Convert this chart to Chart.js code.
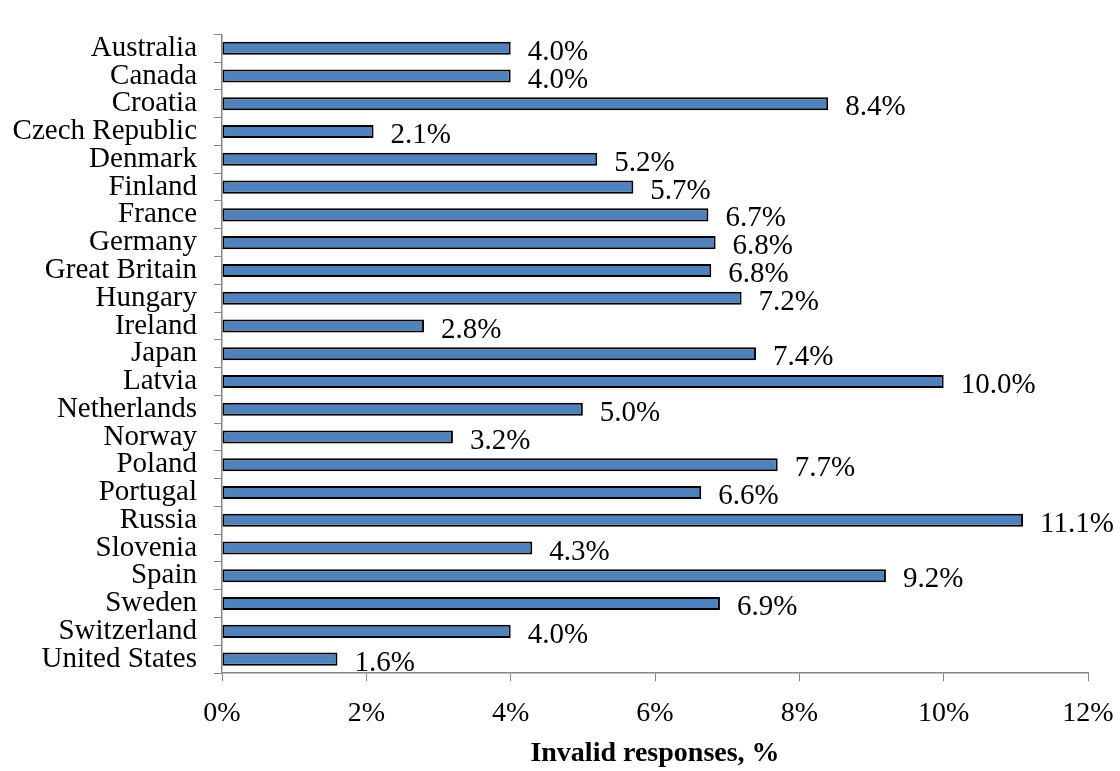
<!DOCTYPE html>
<html>
<head>
<meta charset="utf-8">
<script src="https://cdn.jsdelivr.net/npm/chart.js@4/dist/chart.umd.min.js"></script>
<style>
  html, body { margin: 0; padding: 0; background: #fff; }
  #wrap { width: 1120px; height: 771px; position: relative; }
</style>
</head>
<body>
<div id="wrap"><canvas id="Chart"></canvas></div>
<script>
// countries, top to bottom
const countries = [
  "Australia", "Canada", "Croatia", "Czech Republic", "Denmark", "Finland",
  "France", "Germany", "Great Britain", "Hungary", "Ireland", "Japan",
  "Latvia", "Netherlands", "Norway", "Poland", "Portugal", "Russia",
  "Slovenia", "Spain", "Sweden", "Switzerland", "United States"
];
// share of invalid responses, %
const invalidPct = [
  4.0, 4.0, 8.4, 2.1, 5.2, 5.7,
  6.74, 6.84, 6.78, 7.2, 2.8, 7.4,
  10.0, 5.0, 3.2, 7.7, 6.64, 11.1,
  4.3, 9.2, 6.9, 4.0, 1.6
];
const xTicks = [0, 2, 4, 6, 8, 10, 12];
const axisTitle = "Invalid responses, %";

const FONT = "'Liberation Serif', 'Times New Roman', serif";
Chart.defaults.font.family = FONT;
Chart.defaults.color = "#000";

// value labels at the end of each bar
const barLabels = {
  id: "barLabels",
  afterDatasetsDraw(chart) {
    const ctx = chart.ctx;
    const meta = chart.getDatasetMeta(0);
    ctx.save();
    ctx.font = "29px " + FONT;
    ctx.fillStyle = "#000";
    ctx.textAlign = "left";
    ctx.textBaseline = "middle";
    meta.data.forEach((bar, i) => {
      const txt = invalidPct[i].toFixed(1) + "%";
      ctx.fillText(txt, bar.x + 17, bar.y + 4);
    });
    ctx.restore();
  }
};

const data = {
  labels: countries,
  datasets: [
    {
      label: axisTitle,
      data: invalidPct,
      backgroundColor: "#4F81BD",
      borderColor: "#000",
      borderWidth: 2,
      borderSkipped: false,
      barPercentage: 0.47,
      categoryPercentage: 1.0
    }
  ]
};

const config = {
  type: "bar",
  data,
  options: {
    indexAxis: "y",
    responsive: false,
    animation: false,
    layout: { padding: { top: 14, right: 32, bottom: 0, left: 0 } },
    plugins: {
      legend: { display: false },
      tooltip: { enabled: false }
    },
    scales: {
      x: {
        min: 0,
        max: 12,
        afterBuildTicks: (scale) => {
          scale.ticks = xTicks.map((v) => ({ value: v }));
        },
        afterFit: (scale) => {
          scale.height = 98;
          scale.paddingLeft = 0;
          scale.paddingRight = 0;
        },
        ticks: {
          font: { size: 28 },
          padding: 16,
          callback: (v) => v + "%"
        },
        grid: {
          drawOnChartArea: false,
          drawTicks: true,
          tickLength: 8,
          color: "#868686"
        },
        border: { color: "#868686", width: 1.5 },
        title: {
          display: true,
          text: axisTitle,
          font: { size: 28, weight: "bold" },
          padding: { top: 4, bottom: 0 }
        }
      },
      y: {
        afterFit: (scale) => { scale.width = 222; },
        ticks: {
          font: { size: 29 },
          padding: 17,
          autoSkip: false
        },
        grid: {
          drawOnChartArea: false,
          drawTicks: true,
          tickLength: 8,
          offset: true,
          color: "#868686"
        },
        border: { color: "#868686", width: 1.5 }
      }
    }
  },
  plugins: [barLabels]
};

const c = document.getElementById("Chart");
c.width = 1120;
c.height = 771;
new Chart(c, config);
</script>
</body>
</html>
